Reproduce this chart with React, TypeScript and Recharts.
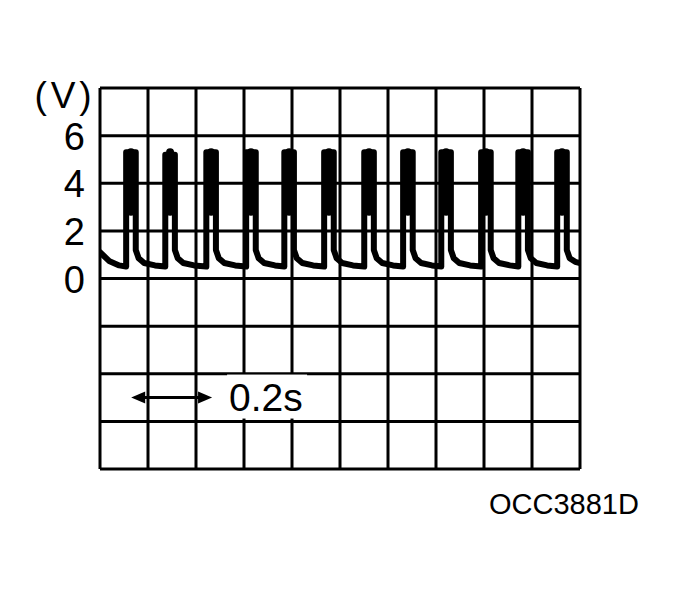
import { LineChart, Line, XAxis, YAxis, CartesianGrid, ReferenceLine } from 'recharts';

// Oscilloscope trace, time in seconds and volts
const traceTime = [
  0, 0.04, 0.08,
  0.109, 0.109, 0.149, 0.149, 0.161, 0.184, 0.229,
  0.272, 0.272, 0.312, 0.312, 0.324, 0.347, 0.392,
  0.443, 0.443, 0.483, 0.483, 0.495, 0.518, 0.563,
  0.609, 0.609, 0.649, 0.649, 0.661, 0.684, 0.729,
  0.768, 0.768, 0.808, 0.808, 0.82, 0.843, 0.888,
  0.934, 0.934, 0.974, 0.974, 0.986, 1.009, 1.054,
  1.101, 1.101, 1.141, 1.141, 1.153, 1.176, 1.221,
  1.263, 1.263, 1.303, 1.303, 1.315, 1.338, 1.383,
  1.422, 1.422, 1.462, 1.462, 1.474, 1.497, 1.542,
  1.588, 1.588, 1.628, 1.628, 1.64, 1.663, 1.708,
  1.743, 1.743, 1.783, 1.783, 1.795, 1.818, 1.863,
  1.905, 1.905, 1.945, 1.945, 1.957, 1.98, 2.0,
];
const traceVolts = [
  1.1, 0.72, 0.55,
  0.5, 5.3, 5.3, 1.2, 0.85, 0.65, 0.55,
  0.5, 5.2, 5.2, 1.2, 0.85, 0.65, 0.55,
  0.5, 5.3, 5.3, 1.2, 0.85, 0.65, 0.55,
  0.5, 5.3, 5.3, 1.2, 0.85, 0.65, 0.55,
  0.5, 5.3, 5.3, 1.2, 0.85, 0.65, 0.55,
  0.5, 5.3, 5.3, 1.2, 0.85, 0.65, 0.55,
  0.5, 5.3, 5.3, 1.2, 0.85, 0.65, 0.55,
  0.5, 5.3, 5.3, 1.2, 0.85, 0.65, 0.55,
  0.5, 5.3, 5.3, 1.2, 0.85, 0.65, 0.55,
  0.5, 5.3, 5.3, 1.2, 0.85, 0.65, 0.55,
  0.5, 5.3, 5.3, 1.2, 0.85, 0.65, 0.55,
  0.5, 5.3, 5.3, 1.2, 0.85, 0.7, 0.65,
];

// the solid-looking upper part of each pulse
const pulseCenters = [0.129, 0.292, 0.463, 0.629, 0.788, 0.954, 1.121, 1.283, 1.442, 1.608, 1.763, 1.925];
const pulseTop = 5.3;
const pulseSolidBottom = 2.8;

const timeTicks = [0, 0.2, 0.4, 0.6, 0.8, 1.0, 1.2, 1.4, 1.6, 1.8, 2.0];
const voltTicks = [-8, -6, -4, -2, 0, 2, 4, 6, 8];
const voltLabels = [0, 2, 4, 6];

const FONT = '"Liberation Sans", Arial, Helvetica, sans-serif';

const traceData = traceTime.map((t, i) => ({ t, v: traceVolts[i] }));
const coreData = pulseCenters.flatMap((t) => [
  { t, v: pulseTop },
  { t, v: pulseSolidBottom },
  { t, v: null },
]);

const NoTick = () => <g />;

const VoltTick = (props: any) => {
  const { x, y, payload } = props;
  if (payload.value === 8) {
    return (
      <text x={x - 29} y={y + 7} textAnchor="middle" dominantBaseline="central"
        fontFamily={FONT} fontSize={37} textLength={57} lengthAdjust="spacing" fill="#000">
        (V)
      </text>
    );
  }
  if (!voltLabels.includes(payload.value)) return null;
  return (
    <text x={x - 7} y={y + 1} textAnchor="end" dominantBaseline="central"
      fontFamily={FONT} fontSize={38} fill="#000">
      {payload.value}
    </text>
  );
};

// double-headed arrow with the time-base label
const ScaleArrow = (props: any) => {
  const { x1, y1, x2 } = props;
  const y = y1;
  return (
    <g>
      <line x1={x1 + 6} y1={y} x2={x2 - 6} y2={y} stroke="#000" strokeWidth={3} />
      <polygon points={`${x1},${y} ${x1 + 14},${y - 6} ${x1 + 14},${y + 6}`} fill="#000" />
      <polygon points={`${x2},${y} ${x2 - 14},${y - 6} ${x2 - 14},${y + 6}`} fill="#000" />
      <rect x={x2 + 15} y={y - 23} width={80} height={44} fill="#fff" />
      <text x={x2 + 17} y={y + 13} fontFamily={FONT} fontSize={39} fill="#000">
        0.2s
      </text>
    </g>
  );
};

export default function App() {
  return (
    <div style={{ position: 'absolute', left: 0, top: 0, width: 679, height: 591, background: '#fff' }}>
      <LineChart width={679} height={591} margin={{ top: 88, right: 99, bottom: 122, left: 0 }}>
        <CartesianGrid stroke="#000" strokeWidth={3} />
        <XAxis
          dataKey="t"
          type="number"
          domain={[0, 2]}
          ticks={timeTicks}
          tick={NoTick}
          tickLine={false}
          axisLine={false}
          height={0}
          interval={0}
          allowDataOverflow
        />
        <YAxis
          type="number"
          domain={[-8, 8]}
          ticks={voltTicks}
          tick={VoltTick}
          tickLine={false}
          axisLine={false}
          width={100}
          interval={0}
        />
        <ReferenceLine
          segment={[{ x: 0.13, y: -5 }, { x: 0.467, y: -5 }]}
          shape={ScaleArrow}
          ifOverflow="visible"
        />
        <Line
          data={coreData}
          dataKey="v"
          type="linear"
          stroke="#000"
          strokeWidth={8}
          strokeLinecap="round"
          dot={false}
          isAnimationActive={false}
        />
        <Line
          data={traceData}
          dataKey="v"
          type="linear"
          stroke="#000"
          strokeWidth={6}
          strokeLinejoin="round"
          strokeLinecap="round"
          dot={false}
          isAnimationActive={false}
        />
      </LineChart>
      <div style={{ position: 'absolute', left: 489, top: 490, fontFamily: FONT, fontSize: 29, lineHeight: '29px', color: '#000' }}>
        OCC3881D
      </div>
    </div>
  );
}
